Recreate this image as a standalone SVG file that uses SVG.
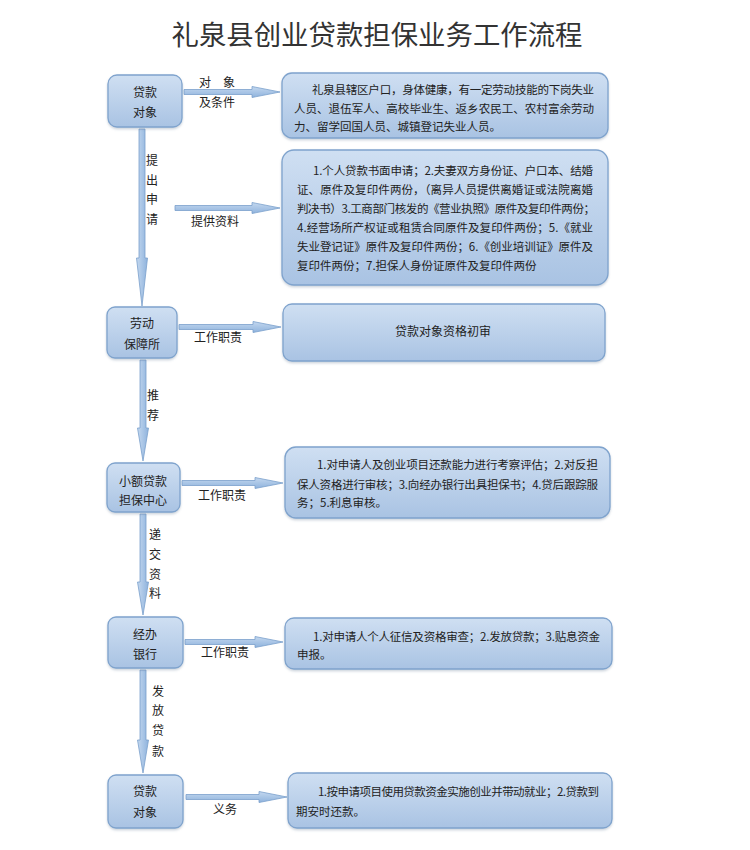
<svg xmlns="http://www.w3.org/2000/svg" width="750" height="850" viewBox="0 0 750 850">
<defs>
<linearGradient id="gBox" x1="0" y1="0" x2="0" y2="1">
<stop offset="0" stop-color="#cfdff2"/>
<stop offset="1" stop-color="#a9c3e3"/>
</linearGradient>
<linearGradient id="gArrH" x1="0" y1="0" x2="0" y2="1">
<stop offset="0" stop-color="#c4d8ef"/>
<stop offset="1" stop-color="#8fb3dd"/>
</linearGradient>
<linearGradient id="gArrV" x1="0" y1="0" x2="1" y2="0">
<stop offset="0" stop-color="#c4d8ef"/>
<stop offset="1" stop-color="#8fb3dd"/>
</linearGradient>
<filter id="sh" x="-10%" y="-10%" width="120%" height="130%">
<feDropShadow dx="0" dy="1.5" stdDeviation="1.2" flood-color="#6c7f99" flood-opacity="0.35"/>
</filter>
</defs>
<style>
.box{fill:url(#gBox);stroke:#7fa3cd;stroke-width:1.3;filter:url(#sh)}
.t{font-family:"Noto Sans CJK SC","Noto Sans",sans-serif;fill:#222}
.title{font-size:27px;fill:#333;text-anchor:middle}
.node{font-size:12px;text-anchor:middle}
.body{font-size:11.5px}
.lbl{font-size:12px;text-anchor:middle}
.ah{fill:url(#gArrH);stroke:#7aa0cc;stroke-width:0.8}
.av{fill:url(#gArrV);stroke:#7aa0cc;stroke-width:0.8}
</style>
<rect width="750" height="850" fill="#ffffff"/>
<text class="t title" x="377" y="45" textLength="411" lengthAdjust="spacingAndGlyphs">礼泉县创业贷款担保业务工作流程</text>

<g id="connectors">
<polygon class="ah" points="184,89.5 252,89.5 252,86.5 280,92 252,97.5 252,94.5 184,94.5"/>
<polygon class="ah" points="175,205.5 252,205.5 252,202.5 280,208 252,213.5 252,210.5 175,210.5"/>
<polygon class="ah" points="179,324.5 253,324.5 253,321.5 281,327 253,332.5 253,329.5 179,329.5"/>
<polygon class="ah" points="182,480.5 255,480.5 255,477.5 283,483 255,488.5 255,485.5 182,485.5"/>
<polygon class="ah" points="185,639.5 255,639.5 255,636.5 283,642 255,647.5 255,644.5 185,644.5"/>
<polygon class="ah" points="186,794.5 259,794.5 259,791.5 287,797 259,802.5 259,799.5 186,799.5"/>
<polygon class="av" points="139,129 145,129 145,258 147.5,258 142,306 136.5,258 139,258"/>
<polygon class="av" points="140,360 146,360 146,428 148.5,428 143,461 137.5,428 140,428"/>
<polygon class="av" points="140,514 146,514 146,582 148.5,582 143,615 137.5,582 140,582"/>
<polygon class="av" points="140,670 146,670 146,740 148.5,740 143,773 137.5,740 140,740"/>
<text class="t lbl" x="217" y="87">对　象</text>
<text class="t lbl" x="217" y="107">及条件</text>
<text class="t lbl" x="152" y="165">提</text>
<text class="t lbl" x="152" y="185">出</text>
<text class="t lbl" x="152" y="204">申</text>
<text class="t lbl" x="152" y="224">请</text>
<text class="t lbl" x="215" y="226">提供资料</text>
<text class="t lbl" x="218" y="342">工作职责</text>
<text class="t lbl" x="153" y="400">推</text>
<text class="t lbl" x="153" y="420">荐</text>
<text class="t lbl" x="222" y="500">工作职责</text>
<text class="t lbl" x="155" y="539">递</text>
<text class="t lbl" x="155" y="559">交</text>
<text class="t lbl" x="155" y="579">资</text>
<text class="t lbl" x="155" y="598">料</text>
<text class="t lbl" x="225" y="657">工作职责</text>
<text class="t lbl" x="158" y="696">发</text>
<text class="t lbl" x="158" y="715">放</text>
<text class="t lbl" x="158" y="735">贷</text>
<text class="t lbl" x="158" y="756">款</text>
<text class="t lbl" x="225" y="814">义务</text>
</g>

<g id="n1">
<rect class="box" x="108" y="75" width="74" height="52" rx="9"/>
<text class="t node" x="145" y="97">贷款</text>
<text class="t node" x="145" y="117">对象</text>
</g>
<g id="b1">
<rect class="box" x="282" y="73" width="326" height="65" rx="10"/>
<text class="t body" x="312" y="94" textLength="282" lengthAdjust="spacing">礼泉县辖区户口，身体健康，有一定劳动技能的下岗失业</text>
<text class="t body" x="294" y="113" textLength="300" lengthAdjust="spacing">人员、退伍军人、高校毕业生、返乡农民工、农村富余劳动</text>
<text class="t body" x="294" y="131">力、留学回国人员、城镇登记失业人员。</text>
</g>
<g id="b2">
<rect class="box" x="282" y="150" width="326" height="135" rx="12"/>
<text class="t body" x="313" y="175" textLength="280" lengthAdjust="spacing">1.个人贷款书面申请；2.夫妻双方身份证、户口本、结婚</text>
<text class="t body" x="297" y="194" textLength="296" lengthAdjust="spacing">证、原件及复印件两份，（离异人员提供离婚证或法院离婚</text>
<text class="t body" x="297" y="213" textLength="298" lengthAdjust="spacing">判决书）3.工商部门核发的《营业执照》原件及复印件两份；</text>
<text class="t body" x="297" y="232" textLength="296" lengthAdjust="spacing">4.经营场所产权证或租赁合同原件及复印件两份；5.《就业</text>
<text class="t body" x="297" y="251" textLength="296" lengthAdjust="spacing">失业登记证》原件及复印件两份；6.《创业培训证》原件及</text>
<text class="t body" x="297" y="270">复印件两份；7.担保人身份证原件及复印件两份</text>
</g>
<g id="n2">
<rect class="box" x="107" y="307" width="70" height="51" rx="8"/>
<text class="t node" x="142" y="328">劳动</text>
<text class="t node" x="142" y="349">保障所</text>
</g>
<g id="b3">
<rect class="box" x="283" y="304" width="322" height="57" rx="9"/>
<text class="t node" x="443" y="336">贷款对象资格初审</text>
</g>
<g id="n3">
<rect class="box" x="107" y="463" width="73" height="49" rx="8"/>
<text class="t node" x="143" y="486">小额贷款</text>
<text class="t node" x="143" y="505">担保中心</text>
</g>
<g id="b4">
<rect class="box" x="285" y="447" width="325" height="71" rx="11"/>
<text class="t body" x="317" y="469" textLength="281" lengthAdjust="spacing">1.对申请人及创业项目还款能力进行考察评估；2.对反担</text>
<text class="t body" x="297" y="489" textLength="301" lengthAdjust="spacing">保人资格进行审核；3.向经办银行出具担保书；4.贷后跟踪服</text>
<text class="t body" x="297" y="507">务；5.利息审核。</text>
</g>
<g id="n4">
<rect class="box" x="108" y="617" width="75" height="51" rx="8"/>
<text class="t node" x="145" y="639">经办</text>
<text class="t node" x="145" y="659">银行</text>
</g>
<g id="b5">
<rect class="box" x="285" y="618" width="327" height="51" rx="9"/>
<text class="t body" x="313" y="641" textLength="287" lengthAdjust="spacing">1.对申请人个人征信及资格审查；2.发放贷款；3.贴息资金</text>
<text class="t body" x="297" y="659">申报。</text>
</g>
<g id="n5">
<rect class="box" x="108" y="775" width="75" height="53" rx="8"/>
<text class="t node" x="145" y="796">贷款</text>
<text class="t node" x="145" y="817">对象</text>
</g>
<g id="b6">
<rect class="box" x="288" y="773" width="324" height="55" rx="9"/>
<text class="t body" x="318" y="796" textLength="281" lengthAdjust="spacing">1.按申请项目使用贷款资金实施创业并带动就业；2.贷款到</text>
<text class="t body" x="296" y="816">期安时还款。</text>
</g>
</svg>
